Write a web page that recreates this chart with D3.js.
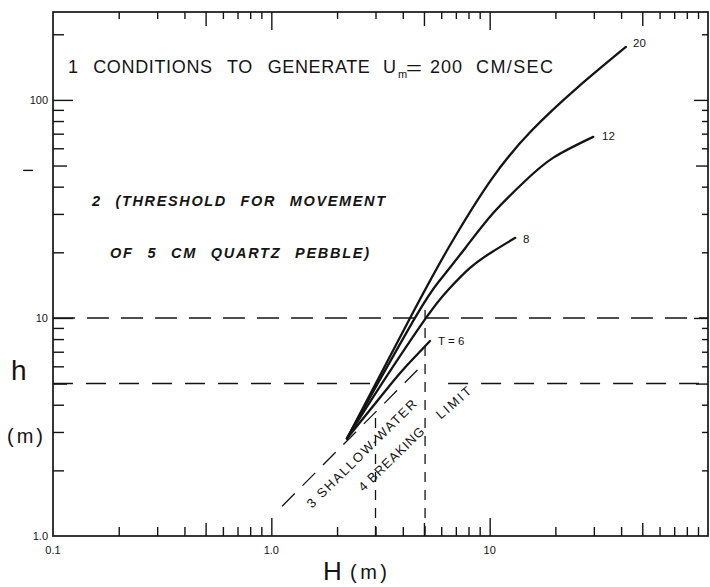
<!DOCTYPE html>
<html>
<head>
<meta charset="utf-8">
<script src="https://cdn.jsdelivr.net/npm/d3@7"></script>
<style>
  body { margin: 0; background: #fff; }
  svg { font-family: "Liberation Sans", Arial, sans-serif; }
</style>
</head>
<body>
<svg id="chart" width="710" height="587"></svg>
<script>
// Tick values (log axes)
const xTicksMinor = [0.2, 0.3, 0.4, 0.6, 0.7, 0.8, 0.9, 2, 3, 4, 6, 7, 8, 9, 20, 30, 40, 60, 70, 80, 90];
const xTicksMid = [0.5, 5, 50];
const xTicksMajor = [1, 10];
const yTicksMinor = [2, 3, 4, 6, 7, 8, 9, 20, 30, 40, 60, 70, 80, 90, 200];
const yTicksMid = [5, 50];
const yTicksMajor = [10, 100];
const xLabelValues = [0.1, 1, 10];
const xLabelText = ["0.1", "1.0", "10"];
const yLabelValues = [1, 10, 100];
const yLabelText = ["1.0", "10", "100"];

// Curves for wave period T (s): [H, h]
const curveT20 = [[2.22, 2.8], [4.32, 10], [6.52, 21.2], [10.15, 43], [15.5, 72], [25, 113], [42.1, 175]];
const curveT12 = [[2.22, 2.8], [4.55, 10], [5.93, 14.94], [7.8, 21.17], [10.48, 30.6], [14.38, 42.06], [19.5, 54.2], [29.8, 67.7]];
const curveT8 = [[2.22, 2.8], [3.18, 4.93], [5.11, 10], [6.45, 13.44], [8.13, 16.96], [10.26, 20.08], [13.1, 23.3]];
const curveT6 = [[2.22, 2.8], [3.5, 4.93], [4.32, 6.28], [5.33, 7.84]];

// Dashed guide lines
const dashH10 = [[0.1, 10], [100, 10]];
const dashH5a = [[0.1, 5], [3.0, 5]];
const dashH5b = [[6.45, 5], [100, 5]];
const shallowLine = [[1.12, 1.37], [5.06, 6.26]];
const vertH3 = [[3, 1], [3, 3.7]];
const vertH5 = [[5.06, 1], [5.06, 11.7]];
const strayMark = [[0.073, 47.5], [0.081, 47.5]];

const svg = d3.select("#chart");
const x = d3.scaleLog().domain([0.1, 100]).range([53, 708]);
const y = d3.scaleLog().domain([1, 253]).range([536, 12]);
const ink = "#141414";

// frame
svg.append("rect")
  .attr("x", x(0.1)).attr("y", y(253))
  .attr("width", x(100) - x(0.1)).attr("height", y(1) - y(253))
  .attr("fill", "none").attr("stroke", ink).attr("stroke-width", 1.7);

function ticks(axisFn, values, size, transform) {
  const scale = (axisFn === d3.axisBottom || axisFn === d3.axisTop) ? x : y;
  svg.append("g")
    .attr("transform", transform)
    .call(axisFn(scale).tickValues(values).tickSize(-size).tickFormat(""))
    .call(g => g.select(".domain").remove())
    .call(g => g.selectAll("line").attr("stroke", ink).attr("stroke-width", 1.4));
}

const atBottom = `translate(0,${y(1)})`, atTop = `translate(0,${y(253)})`;
const atLeft = `translate(${x(0.1)},0)`, atRight = `translate(${x(100)},0)`;
ticks(d3.axisBottom, xTicksMinor, 9, atBottom);
ticks(d3.axisBottom, xTicksMid, 13, atBottom);
ticks(d3.axisBottom, xTicksMajor, 18, atBottom);
ticks(d3.axisTop, xTicksMinor, 7, atTop);
ticks(d3.axisTop, xTicksMid, 14, atTop);
ticks(d3.axisTop, xTicksMajor, 18, atTop);
ticks(d3.axisLeft, yTicksMinor, 11, atLeft);
ticks(d3.axisLeft, yTicksMid, 14, atLeft);
ticks(d3.axisLeft, yTicksMajor, 20, atLeft);
ticks(d3.axisRight, yTicksMinor, 6, atRight);
ticks(d3.axisRight, yTicksMid, 12, atRight);
ticks(d3.axisRight, yTicksMajor, 14, atRight);

// tick labels
svg.append("g").selectAll("text").data(xLabelValues).join("text")
  .attr("x", d => x(d)).attr("y", y(1) + 18)
  .attr("text-anchor", "middle").attr("font-size", 11).attr("fill", ink)
  .text((d, i) => xLabelText[i]);
svg.append("g").selectAll("text").data(yLabelValues).join("text")
  .attr("x", x(0.1) - 5).attr("y", d => y(d) + 4)
  .attr("text-anchor", "end").attr("font-size", 11).attr("fill", ink)
  .text((d, i) => yLabelText[i]);

// axis titles
svg.append("text").attr("x", 11).attr("y", 380).attr("font-size", 28).attr("fill", ink).text("h");
svg.append("text").attr("x", 7).attr("y", 443).attr("font-size", 20).attr("fill", ink)
  .attr("textLength", 36).attr("lengthAdjust", "spacing").text("(m)");
svg.append("text").attr("x", 323).attr("y", 580).attr("font-size", 26).attr("fill", ink).text("H");
svg.append("text").attr("x", 350).attr("y", 579).attr("font-size", 20).attr("fill", ink)
  .attr("textLength", 37).attr("lengthAdjust", "spacing").text("(m)");

// dashed lines
const line = d3.line().x(d => x(d[0])).y(d => y(d[1]));
function dashed(data, dash, w) {
  svg.append("path").datum(data)
    .attr("d", line).attr("fill", "none")
    .attr("stroke", ink).attr("stroke-width", w).attr("stroke-dasharray", dash);
}
dashed(dashH10, "22,12", 1.6);
dashed(dashH5a, "20,13", 1.5);
dashed(dashH5b, "20,13", 1.5);
dashed(shallowLine, "18,11", 1.3);
dashed(vertH3, "10,8", 1.3);
dashed(vertH5, "10,8", 1.3);
dashed(strayMark, null, 1.4);

// period curves
const smooth = d3.line().x(d => x(d[0])).y(d => y(d[1])).curve(d3.curveNatural);
[curveT20, curveT12, curveT8, curveT6].forEach(c => {
  svg.append("path").datum(c)
    .attr("d", smooth).attr("fill", "none")
    .attr("stroke", ink).attr("stroke-width", 2.3).attr("stroke-linecap", "round");
});

// curve labels
const curveLabels = [
  { text: "20", H: 45.4, h: 175 },
  { text: "12", H: 32.7, h: 65.5 },
  { text: "8", H: 14.2, h: 22.1 },
  { text: "T = 6", H: 5.8, h: 7.52 }
];
svg.append("g").selectAll("text").data(curveLabels).join("text")
  .attr("x", d => x(d.H)).attr("y", d => y(d.h))
  .attr("font-size", 11.5).attr("fill", ink)
  .text(d => d.text);

// annotations
const notes = [
  { text: "1 CONDITIONS TO GENERATE", H: 0.117, h: 133, size: 18, len: 302, ws: 9 },
  { text: "U", H: 3.25, h: 133, size: 18 },
  { text: "m", H: 3.8, h: 126, size: 11 },
  { text: "=", H: 4.14, h: 131, size: 18, len: 16, glyphs: true },
  { text: "200", H: 5.33, h: 133, size: 18, len: 32 },
  { text: "CM/SEC", H: 8.66, h: 133, size: 18, len: 77 },
  { text: "2 (THRESHOLD FOR MOVEMENT", H: 0.151, h: 32.6, size: 14.5, len: 293, ws: 8, bi: true },
  { text: "OF 5 CM QUARTZ PEBBLE)", H: 0.1825, h: 18.85, size: 14.5, len: 259, ws: 8, bi: true }
];
notes.forEach(n => {
  const t = svg.append("text")
    .attr("x", x(n.H)).attr("y", y(n.h))
    .attr("font-size", n.size).attr("fill", ink)
    .text(n.text);
  if (n.len) t.attr("textLength", n.len).attr("lengthAdjust", n.glyphs ? "spacingAndGlyphs" : "spacing");
  if (n.ws) t.style("word-spacing", n.ws + "px");
  if (n.bi) t.attr("font-weight", "bold").attr("font-style", "italic");
});

// rotated labels along the limit lines
const slanted = [
  { text: "3 SHALLOW-WATER", H: 2.676, h: 2.306, angle: -44.5, len: 148 },
  { text: "4 BREAKING", H: 3.66, h: 2.178, angle: -44, len: 86 },
  { text: "LIMIT", H: 7.05, h: 3.94, angle: -41, len: 41.5 }
];
slanted.forEach(s => {
  svg.append("text")
    .attr("transform", `translate(${x(s.H)},${y(s.h)}) rotate(${s.angle})`)
    .attr("text-anchor", "middle").attr("font-size", 13).attr("fill", ink)
    .attr("textLength", s.len).attr("lengthAdjust", "spacing")
    .text(s.text);
});
</script>
</body>
</html>
